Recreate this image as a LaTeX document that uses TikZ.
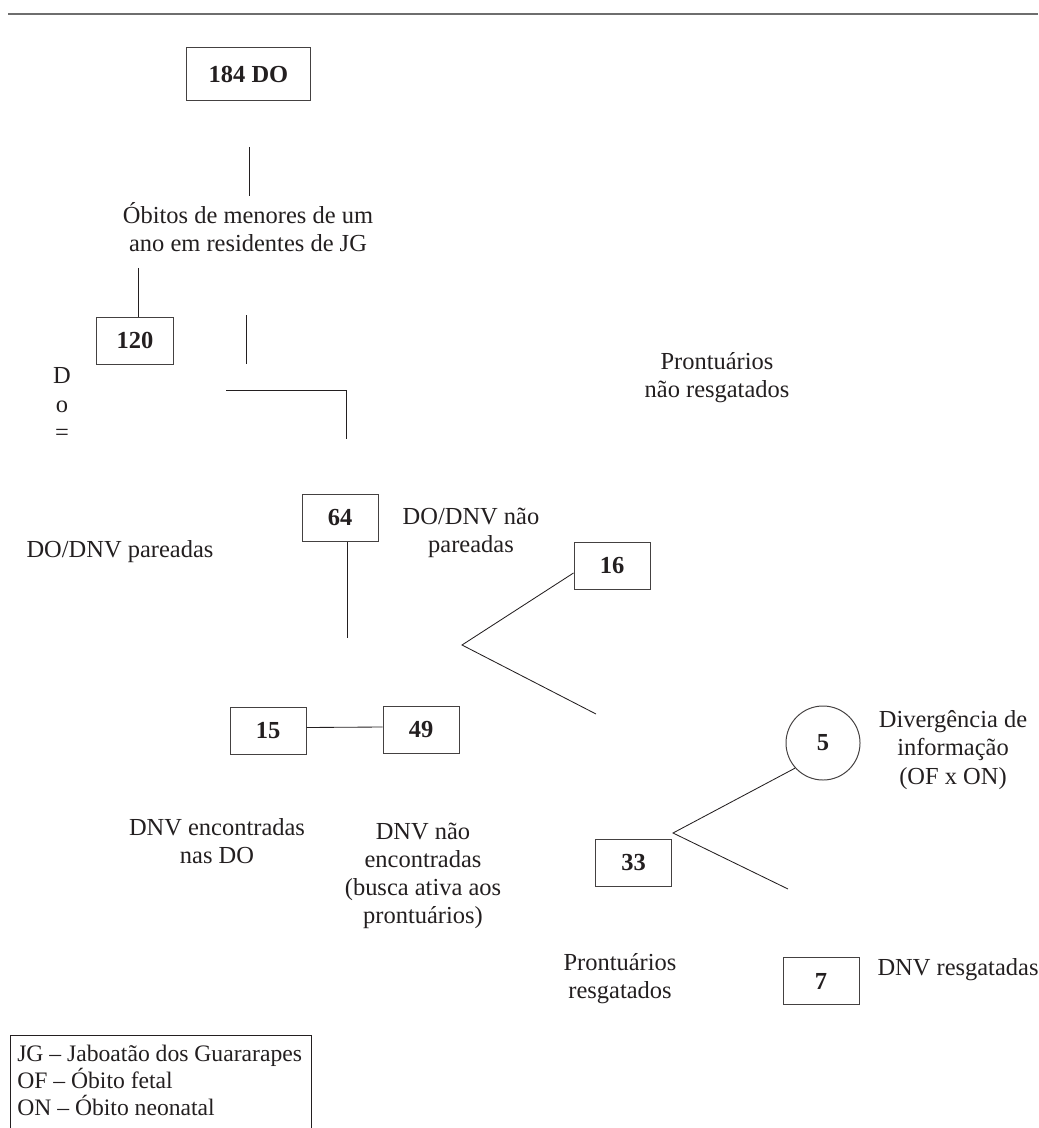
\documentclass[tikz,border=0pt]{standalone}
\usepackage{fontspec}
\setmainfont{Liberation Serif}
\usetikzlibrary{calc}
\definecolor{ink}{HTML}{231F20}
\definecolor{rulegray}{HTML}{6E6E6E}
\tikzset{
  box/.style={draw=ink!85, line width=0.7pt, minimum width=1.9cm, minimum height=1.175cm,
              inner sep=0pt, font=\fontsize{17.4}{20}\selectfont\bfseries},
  circbox/.style={box, circle, minimum width=1.85cm, minimum height=1.85cm},
  lbl/.style={align=center, inner sep=0pt},
  ln/.style={draw=ink, line width=0.6pt}
}

\begin{document}
\begin{tikzpicture}[x=0.025cm, y=-0.025cm, font=\fontsize{17.4}{20}\selectfont, color=ink]
  \useasboundingbox (0,0) rectangle (1038,1128);
  \draw[rulegray, line width=1.2pt] (8,14) -- (1038,14);

  \node[box, minimum width=3.1cm, minimum height=1.3cm] (do184) at (248.5,74) {184 DO};
  \node[lbl] (obitos) at (248,227) {Óbitos de menores de um\\ano em residentes de JG};
  \node[box] (n120) at (135,340.5) {120};
  \node[lbl, font=\fontsize{17.4}{20.6}\selectfont] (dob) at (62,404) {D\\o\\=};
  \node[lbl] (prnr) at (717,378) {Prontuários\\não resgatados};
  \node[box] (n64) at (340,517.5) {64};
  \node[lbl] (par) at (120,552) {DO/DNV pareadas};
  \node[lbl] (npar) at (471,533) {DO/DNV não\\pareadas};
  \node[box] (n16) at (612,566) {16};
  \node[box] (n15) at (268,730.5) {15};
  \node[box] (n49) at (421,730) {49};
  \node[lbl] (enc) at (217,841) {DNV encontradas\\nas DO};
  \node[lbl] (nenc) at (423,876) {DNV não\\encontradas\\(busca ativa aos\\prontuários)};
  \node[circbox] (c5) at (823,743) {5};
  \node[lbl] (div) at (953,750) {Divergência de\\informação\\(OF x ON)};
  \node[box] (n33) at (633.5,862.5) {33};
  \node[lbl] (prr) at (620,979) {Prontuários\\resgatados};
  \node[box] (n7) at (821,981) {7};
  \node[lbl] (resg) at (958,970) {DNV resgatadas};
  \node[lbl, align=left, anchor=north west, font=\fontsize{16.8}{19}\selectfont] (leg) at (17,1045)
    {JG – Jaboatão dos Guararapes\\OF – Óbito fetal\\ON – Óbito neonatal};

  \coordinate (a1) at (249,147); \coordinate (a2) at (249,196);
  \coordinate (b1) at (138,268);
  \coordinate (c1) at (246,315); \coordinate (c2) at (246,364);
  \coordinate (d1) at (226,390); \coordinate (d2) at (346,439);
  \coordinate (e1) at (347,638);
  \coordinate (f1) at (462,645); \coordinate (f2) at (596,714);
  \coordinate (g1) at (673,833); \coordinate (g2) at (788,889);

  \draw[ln] (a1) -- (a2);
  \draw[ln] (b1) -- (b1 |- n120.north);
  \draw[ln] (c1) -- (c2);
  \draw[ln] (d1) -| (d2);
  \draw[ln] (e1 |- n64.south) -- (e1);
  \draw[ln] ($(n15.east)+(0,-3)$) -- ($(n49.west)+(0,-3)$);
  \draw[ln] ($(n16.west)+(0,7)$) -- (f1) -- (f2);
  \draw[ln] (c5.222) -- (g1) -- (g2);
  \draw[ln] (10,1128) |- (311,1035) -- (311,1128);
\end{tikzpicture}
\end{document}
